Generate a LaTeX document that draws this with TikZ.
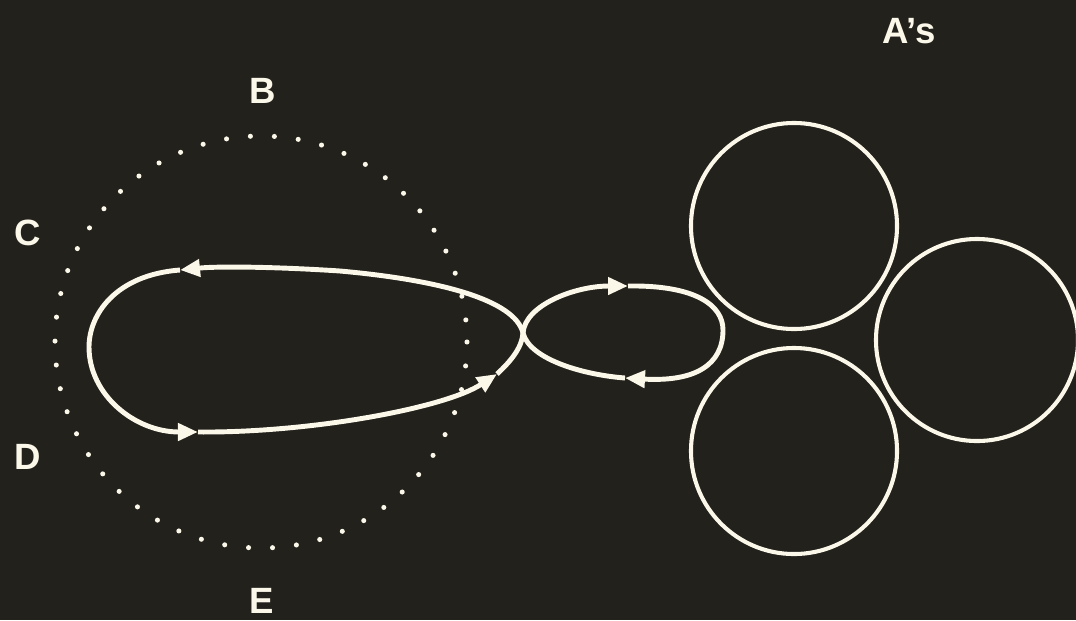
\documentclass[tikz,border=0pt]{standalone}
\usepackage{fontspec}
\setmainfont{Liberation Sans}
\usetikzlibrary{arrows.meta}
\definecolor{board}{HTML}{22211C}
\definecolor{chalk}{HTML}{FBF8EA}

\begin{document}
\begin{tikzpicture}[
			x=0.025cm, y=-0.025cm,
			lbl/.style={text=chalk, inner sep=0pt, font=\fontsize{26}{30}\selectfont\bfseries},
			ring/.style={circle, draw=chalk, line width=2.9pt, minimum size=5.15cm, inner sep=0pt},
			dotring/.style={draw=chalk, line width=3.6pt, line cap=round, dash pattern=on 0pt off 0.6cm},
			flow/.style={draw=chalk, line width=3.5pt, -{Triangle[length=0.5cm, width=0.42cm]}}
			]
			\fill[board] (0,0) rectangle (1076,620);
			\useasboundingbox (0,0) rectangle (1076,620);
			% the ring of B, C, D, E
			\draw[dotring] (261,342) circle[radius=206];
			\node[lbl] (B) at (263,91) {B};
			\node[lbl] (C) at (28,233) {C};
			\node[lbl] (D) at (28,457) {D};
			\node[lbl] (E) at (262,601) {E};
			% the A's
			\node[lbl] (As) at (909,31) {A’s};
			\node[ring] (a1) at (794,226) {};
			\node[ring, minimum size=5.05cm] (a2) at (977,340) {};
			\node[ring] (a3) at (794,451) {};
			% the figure of eight
			\coordinate (X) at (523,333);
			\coordinate (lt) at (180,270);
			\coordinate (lb) at (198,432);
			\coordinate (lr) at (497,374);
			\coordinate (rt) at (628,286);
			\coordinate (rb) at (625,378);
			\draw[flow] (lb) .. controls (310,433) and (445,408) .. (lr);
			\draw[flow] (lr) .. controls (510,362) and (522,348) .. (X) .. controls (525,305) and (575,286) .. (rt);
			\draw[flow] (rt) .. controls (695,285) and (723,305) .. (723,330) .. controls (723,365) and (695,382) .. (rb);
			\draw[flow] (rb) .. controls (585,375) and (530,360) .. (X) .. controls (515,300) and (440,280) .. (340,271) .. controls (280,267) and (220,266) .. (lt);
			\draw[flow] (lt) .. controls (115,275) and (89,315) .. (89,347) .. controls (89,395) and (135,432) .. (lb);
		\end{tikzpicture}
\end{document}
